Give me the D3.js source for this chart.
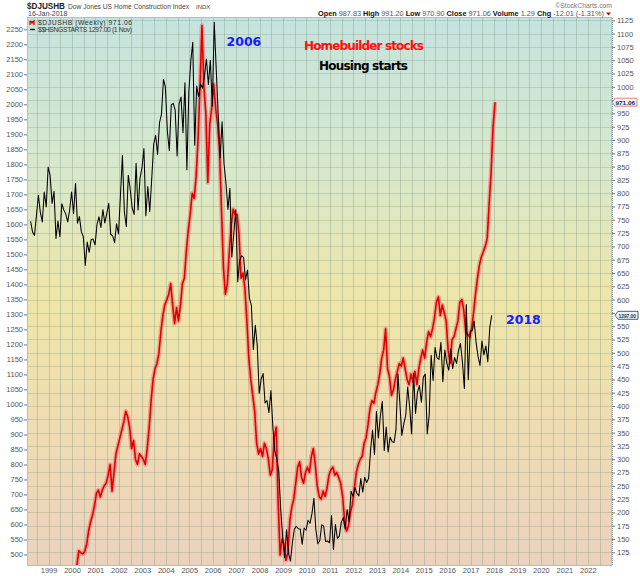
<!DOCTYPE html>
<html><head><meta charset="utf-8">
<script src="https://cdn.jsdelivr.net/npm/d3@7"></script>
<style>
html,body{margin:0;padding:0;background:#fff;}
svg{display:block;font-family:"Liberation Sans",Arial,sans-serif;}
</style></head><body>
<svg id="c" width="640" height="576"></svg>
<script>
// ---- DATA ----
const stockStart = [2000, 3]; // first month of weekly $DJUSHB closes (read monthly)
const homebuilderStocks = [
  100,128,124,122,126,140,165,182,195,212,
  236,242,229,242,250,255,270,290,240,275,310,325,
  340,355,370,390,380,360,320,335,300,290,310,305,
  300,290,320,360,410,450,470,480,500,540,570,590,
  600,610,630,590,555,585,560,590,630,640,690,730,
  760,800,790,830,900,1000,1115,1000,950,820,930,960,
  1005,960,930,880,770,660,610,630,690,740,770,760,
  760,720,640,650,620,560,490,450,420,390,330,310,
  320,305,330,320,300,270,280,340,360,220,120,150,
  140,110,125,185,210,225,255,285,295,265,255,275,
  285,275,305,320,290,250,230,225,240,230,245,270,
  280,285,270,275,265,255,230,185,165,175,200,215,
  245,275,290,300,305,330,340,365,395,410,405,425,
  440,460,490,505,545,470,455,420,430,450,465,480,
  475,490,470,450,440,460,445,465,440,470,490,505,
  490,520,540,530,545,565,595,605,570,590,575,560,
  505,480,525,530,545,560,595,600,580,540,535,530,
  545,575,610,640,665,680,690,700,715,780,840,925,
  971.06
];
const startsStart = [1998, 3]; // first month of $$HSNGSTARTS
const housingStarts = [
  1610,1575,1563,1630,1697,1640,1608,1708,1658,1791,
  1763,1670,1710,1553,1611,1559,1669,1648,1635,1608,1648,1708,
  1636,1737,1604,1626,1575,1559,1463,1541,1507,1549,1551,1532,
  1600,1625,1590,1649,1605,1636,1670,1567,1562,1540,1602,1568,
  1698,1829,1642,1592,1764,1717,1655,1633,1804,1648,1753,1788,
  1853,1629,1726,1643,1751,1867,1897,1833,1939,1967,2083,2057,
  1911,1846,1998,2003,1981,1828,2002,2024,1905,2072,1782,2042,
  2144,2207,1864,2061,2025,2068,2054,2095,2151,2065,2147,1994,
  2273,2119,1969,1821,1942,1802,1737,1650,1720,1491,1570,1649,
  1409,1480,1495,1490,1415,1448,1354,1330,1183,1264,1197,1037,
  1084,1103,1005,1013,973,1046,923,844,820,777,652,560,
  490,582,505,478,540,585,594,586,585,534,588,581,
  614,604,636,687,583,536,546,599,594,543,545,539,
  630,517,600,554,561,608,623,585,650,610,711,694,
  723,704,695,753,708,757,740,754,847,915,833,976,
  888,962,1010,847,925,842,891,876,873,916,1101,1003,
  897,935,964,1058,992,902,1104,969,1041,1063,1007,1091,
  1101,902,965,1164,1080,1190,1155,1150,1207,1076,1181,1138,
  1114,1185,1119,1156,1137,1180,1203,1142,1052,1333,1082,1245,
  1246,1278,1207,1160,1130,1211,1165,1195,1142,1256,1297
];
const leftTicks = d3.range(500, 2251, 50);
const rightTicks = d3.range(125, 1126, 25);
const yearTicks = d3.range(1999, 2023);
const lastStock = 971.06;
const lastStarts = 1297.00;
const quoteParts = [["Open"," 987.83 "],["High"," 991.20 "],["Low"," 970.90 "],["Close"," 971.06 "],["Volume"," 1.29 "],["Chg"," -12.01 (-1.31%)"]];

// ---- LAYOUT ----
const svg = d3.select("#c");
const P = {l:27, r:612, t:18, b:565};
const x = d3.scaleLinear().domain([1998.081, 2023.03]).range([P.l, P.r]);
const yL = d3.scaleLinear().domain([500, 2250]).range([554.5, 29.3]);
const yR = d3.scaleLinear().domain([125, 1125]).range([552.3, 20.3]);

const defs = svg.append("defs");
const g = defs.append("linearGradient").attr("id","bg").attr("x1",0).attr("x2",0).attr("y1",0).attr("y2",1);
[[0,"#c5e3df"],[0.28,"#d8e8cb"],[0.52,"#eee6a8"],[0.75,"#efdcb2"],[1,"#ebd2be"]]
  .forEach(([o,c])=>g.append("stop").attr("offset",o).attr("stop-color",c));
defs.append("clipPath").attr("id","clip").append("rect")
  .attr("x",P.l).attr("y",P.t).attr("width",P.r-P.l).attr("height",P.b-P.t);

svg.append("rect").attr("x",P.l).attr("y",P.t).attr("width",P.r-P.l).attr("height",P.b-P.t)
  .attr("fill","url(#bg)");

// grid
const grid = svg.append("g").attr("clip-path","url(#clip)");
grid.selectAll(".hg").data(rightTicks).join("line")
  .attr("x1",P.l).attr("x2",P.r).attr("y1",d=>Math.round(yR(d))+0.5).attr("y2",d=>Math.round(yR(d))+0.5)
  .attr("stroke","#7f957f").attr("stroke-opacity",0.3);
grid.selectAll(".vg").data(d3.range(1998.5, 2023.01, 0.5)).join("line")
  .attr("y1",P.t).attr("y2",P.b).attr("x1",d=>Math.round(x(d))+0.5).attr("x2",d=>Math.round(x(d))+0.5)
  .attr("stroke","#7f957f").attr("stroke-opacity",0.35);

// frame
svg.append("line").attr("x1",P.l+0.5).attr("x2",P.l+0.5).attr("y1",P.t).attr("y2",P.b).attr("stroke","#a8c3cf");
svg.append("line").attr("x1",P.l).attr("x2",P.r).attr("y1",P.b+0.5).attr("y2",P.b+0.5).attr("stroke","#a8c3cf");
svg.append("line").attr("x1",P.l).attr("x2",P.r).attr("y1",P.t-0.5).attr("y2",P.t-0.5).attr("stroke","#a8c3cf");
svg.append("line").attr("x1",P.r+0.5).attr("x2",P.r+0.5).attr("y1",P.t).attr("y2",P.b)
  .attr("stroke","#7a98a8").attr("stroke-dasharray","1,1");

// axes (right-axis labels hidden behind the value tags are left out)
function styleAxis(sel){
  sel.select(".domain").remove();
  sel.selectAll(".tick line").attr("stroke","#777");
  sel.selectAll(".tick text").attr("fill","#555").attr("font-size","7.5px")
    .attr("font-family","'Liberation Sans',Arial,sans-serif");
}
const tagY = [yR(lastStock), yL(lastStarts)];
svg.append("g").attr("transform",`translate(${P.l},0)`)
  .call(d3.axisLeft(yL).tickValues(leftTicks).tickSize(3).tickPadding(1).tickFormat(d3.format("d")))
  .call(styleAxis);
const rAxis = svg.append("g").attr("transform",`translate(${P.r},0)`)
  .call(d3.axisRight(yR).tickValues(rightTicks).tickSize(3).tickPadding(2).tickFormat(d3.format("d")))
  .call(styleAxis);
rAxis.selectAll(".tick").filter(d=>tagY.some(ty=>Math.abs(yR(d)-ty)<7)).select("text").remove();
svg.append("g").attr("transform",`translate(0,${P.b})`)
  .call(d3.axisBottom(x).tickValues(yearTicks).tickSize(0).tickPadding(2.5).tickFormat(d3.format("d")))
  .call(styleAxis);

// series
const stockData = homebuilderStocks.map((v,i)=>({t: stockStart[0] + (stockStart[1]-1+i+0.5)/12, v}));
const startsData = housingStarts.map((v,i)=>({t: startsStart[0] + (startsStart[1]-1+i+0.8)/12, v}));
const lineR = d3.line().x(d=>x(d.t)).y(d=>yR(d.v));
const lineL = d3.line().x(d=>x(d.t)).y(d=>yL(d.v));
const plot = svg.append("g").attr("clip-path","url(#clip)");
plot.append("path").datum(stockData).attr("d",lineR).attr("fill","none")
  .attr("stroke","#f06a6a").attr("stroke-opacity",0.5).attr("stroke-width",4.5).attr("stroke-linejoin","round");
plot.append("path").datum(stockData).attr("d",lineR).attr("fill","none")
  .attr("stroke","#e00000").attr("stroke-width",1.6).attr("stroke-linejoin","round");
plot.append("path").datum(startsData).attr("d",lineL).attr("fill","none")
  .attr("stroke","#000").attr("stroke-width",1.05).attr("stroke-linejoin","round");

// value tags on right axis
function tag(yv, label, border, x0, w){
  const tg = svg.append("g").attr("transform",`translate(0,${yv})`);
  tg.append("path").attr("d",`M${x0},0 L${x0+3},-4 L${x0+w},-4 L${x0+w},4 L${x0+3},4 Z`)
    .attr("fill","#eaf6f8").attr("stroke",border).attr("stroke-width",0.8);
  tg.append("text").attr("x",x0+3.5).attr("y",2.3).attr("font-size","5.6px").attr("font-weight","bold")
    .attr("fill","#1a2a5a").attr("textLength",w-5.5).attr("lengthAdjust","spacingAndGlyphs").text(label);
}
tag(yR(lastStock), d3.format(".2f")(lastStock), "#e06060", P.r, 25);
tag(yL(lastStarts), d3.format(".2f")(lastStarts), "#333", 615, 23);

// header
svg.append("text").attr("x",27).attr("y",8.5).attr("font-size","9px").attr("font-weight","bold")
  .attr("fill","#222").attr("textLength",38).attr("lengthAdjust","spacingAndGlyphs").text("$DJUSHB");
svg.append("text").attr("x",68).attr("y",8.5).attr("font-size","6.9px").attr("fill","#444")
  .attr("textLength",121).attr("lengthAdjust","spacingAndGlyphs").text("Dow Jones US Home Construction Index");
svg.append("text").attr("x",196).attr("y",8.5).attr("font-size","6px").attr("fill","#444").text("INDX");
svg.append("text").attr("x",28).attr("y",16).attr("font-size","7px").attr("fill","#444").text("16-Jan-2018");
svg.append("text").attr("x",612).attr("y",7.5).attr("text-anchor","end").attr("font-size","6.8px")
  .attr("fill","#777").text("\u00A9StockCharts.com");
const q = svg.append("text").attr("x",318).attr("y",16).attr("font-size","7.3px").attr("fill","#555");
quoteParts.forEach(([k,v])=>{
  q.append("tspan").attr("font-weight","bold").attr("fill","#111").text(k);
  q.append("tspan").text(v);
});
svg.append("path").attr("d","M606,12.5 L611,12.5 L608.5,15.5 Z").attr("fill","#c00");

// legend
svg.append("path").attr("d","M30,21 L30,25 M30,21 L32,23 L34,21 L34,25 M32,21 L32,23")
  .attr("stroke","#e00000").attr("stroke-width",1.3).attr("fill","none");
svg.append("text").attr("x",38).attr("y",25).attr("font-size","6.8px").attr("fill","#333")
  .attr("textLength",94).text("$DJUSHB (Weekly) 971.06");
svg.append("line").attr("x1",30).attr("x2",35).attr("y1",29.5).attr("y2",29.5).attr("stroke","#000").attr("stroke-width",1.3);
svg.append("text").attr("x",38).attr("y",32).attr("font-size","6.8px").attr("fill","#333")
  .attr("textLength",94).text("$$HSNGSTARTS 1297.00 (1 Nov)");

// annotations
const ann = svg.append("g").attr("font-family","'DejaVu Sans',Verdana,sans-serif").attr("font-weight","bold");
ann.append("text").attr("x",226.5).attr("y",45.5).attr("font-size","12.5px").attr("fill","#1a1aff").text("2006");
ann.append("text").attr("x",304).attr("y",50).attr("font-size","12px").attr("fill","#ff1010")
  .attr("textLength",120).text("Homebuilder stocks");
ann.append("text").attr("x",319).attr("y",69.5).attr("font-size","12px").attr("fill","#000")
  .attr("textLength",89).text("Housing starts");
ann.append("text").attr("x",506).attr("y",324).attr("font-size","12.5px").attr("fill","#1a1aff").text("2018");
</script>
</body></html>
